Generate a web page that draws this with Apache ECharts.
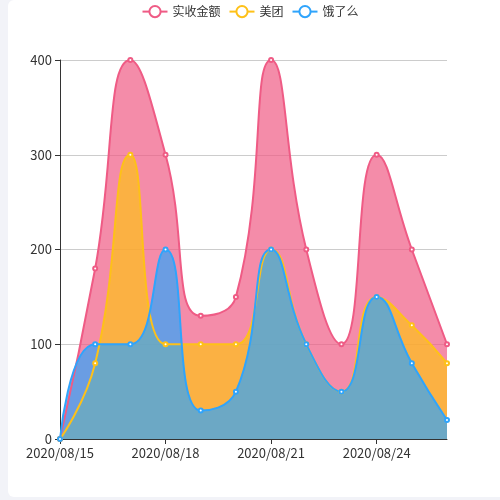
<!DOCTYPE html>
<html>
<head>
<meta charset="utf-8">
<style>
    html, body { margin: 0; padding: 0; width: 500px; height: 500px; background: #f2f3f8; overflow: hidden; }
    .card { position: absolute; left: 8px; top: 0; width: 520px; height: 497px; background: #fff; border-radius: 6px; }
    #main { position: absolute; left: 0; top: 0; width: 500px; height: 500px; }
</style>
</head>
<body>
<div class="card"></div>
<div id="main"></div>
<script src="https://cdn.jsdelivr.net/npm/echarts@6/dist/echarts.min.js"></script>
<script type="text/javascript">
    var days = ['2020/08/15', '2020/08/16', '2020/08/17', '2020/08/18', '2020/08/19', '2020/08/20',
        '2020/08/21', '2020/08/22', '2020/08/23', '2020/08/24', '2020/08/25', '2020/08/26'];
    var total = [0, 180, 400, 300, 130, 150, 400, 200, 100, 300, 200, 100];   // 实收金额
    var meituan = [0, 80, 300, 100, 100, 100, 200, 100, 50, 150, 120, 80];    // 美团
    var eleme = [0, 100, 100, 200, 30, 50, 200, 100, 50, 150, 80, 20];        // 饿了么

    var font = '"Microsoft YaHei", "Noto Sans CJK SC", sans-serif';

    function area(name, data, color) {
        return {
            name: name,
            type: 'line',
            smooth: true,
            data: data,
            symbol: 'emptyCircle',
            symbolSize: 4,
            itemStyle: { color: color },
            lineStyle: { color: color, width: 2 },
            areaStyle: { color: color, opacity: 0.7 }
        };
    }

    var myChart = echarts.init(document.getElementById('main'));
    var option = {
        textStyle: { fontFamily: font },
        legend: {
            top: 0,
            data: ['实收金额', '美团', '饿了么'],
            textStyle: { color: '#333', fontSize: 12, fontFamily: font }
        },
        grid: { left: 60, right: 53, top: 60, bottom: 61 },
        xAxis: {
            type: 'category',
            boundaryGap: false,
            data: days,
            axisLine: { lineStyle: { color: '#333' } },
            axisTick: { show: true },
            axisLabel: { interval: 2, color: '#333', fontSize: 13, fontFamily: font }
        },
        yAxis: {
            type: 'value',
            min: 0,
            max: 400,
            interval: 100,
            axisLine: { show: true, lineStyle: { color: '#333' } },
            axisTick: { show: true },
            axisLabel: { color: '#333', fontSize: 13, fontFamily: font },
            splitLine: { lineStyle: { color: '#ccc' } }
        },
        series: [
            area('实收金额', total, '#ef5b85'),
            area('美团', meituan, '#fec118'),
            area('饿了么', eleme, '#2fa4fc')
        ]
    };
    myChart.setOption(option);
</script>
</body>
</html>
